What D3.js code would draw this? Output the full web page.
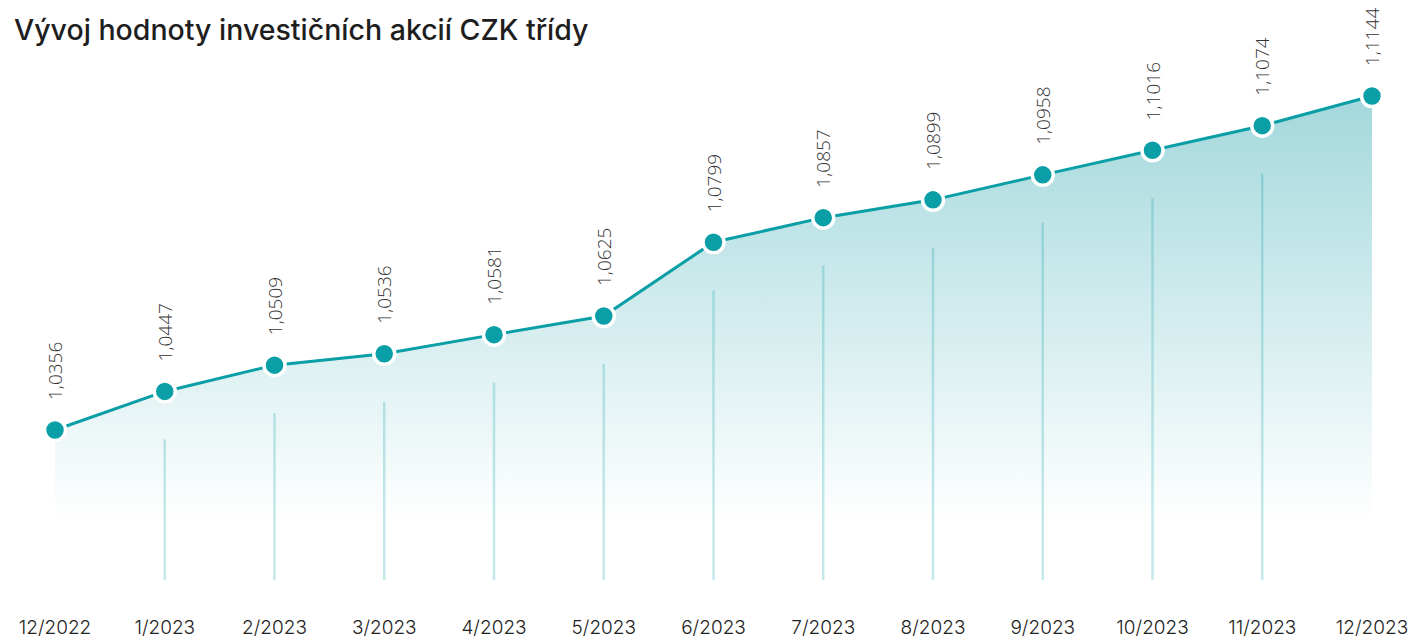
<!DOCTYPE html>
<html>
  <head>
    <script src="https://d3js.org/d3.v7.min.js"></script>
    <style>
      body { margin: 0; background: #fff; }
      .title { font-family: Inter, sans-serif; font-size: 28.5px; font-weight: 500; fill: #1e1e1e; }
      .xlab { font-family: Inter, sans-serif; font-size: 19px; font-weight: 300; fill: #222; }
      .vlab { font-family: "Open Sans", sans-serif; font-size: 19px; font-weight: 300; fill: #333; }
    </style>
  </head>
  <body>
    <svg width="1413" height="638"></svg>
    <script>
      // data
      var months = ["12/2022", "1/2023", "2/2023", "3/2023", "4/2023", "5/2023", "6/2023",
                    "7/2023", "8/2023", "9/2023", "10/2023", "11/2023", "12/2023"];
      var values = [1.0356, 1.0447, 1.0509, 1.0536, 1.0581, 1.0625, 1.0799,
                    1.0857, 1.0899, 1.0958, 1.1016, 1.1074, 1.1144];

      var svg = d3.select("svg");

      var x = d3.scalePoint().domain(months).range([55, 1372]);
      var y = d3.scaleLinear().domain([1.0356, 1.1144]).range([430, 96]);
      var areaBottom = 520, stemBottom = 580, stemGap = 48;

      svg.append("text").attr("class", "title").attr("x", 14).attr("y", 40)
        .text("Vývoj hodnoty investičních akcií CZK třídy");

      // gradient
      var grad = svg.append("defs").append("linearGradient")
        .attr("id", "fade").attr("gradientUnits", "userSpaceOnUse")
        .attr("x1", 0).attr("x2", 0).attr("y1", y(d3.max(values))).attr("y2", areaBottom);
      grad.append("stop").attr("offset", 0).attr("stop-color", "#a3d8dc");
      grad.append("stop").attr("offset", 1).attr("stop-color", "#ffffff");

      var pts = months.map(function(m, i) { return { m: m, v: values[i] }; });

      svg.append("path").datum(pts)
        .attr("fill", "url(#fade)")
        .attr("d", d3.area().x(function(d) { return x(d.m); })
          .y0(areaBottom).y1(function(d) { return y(d.v); }));

      // vertical stems
      svg.selectAll(".stem").data(pts.slice(1, -1)).enter().append("line")
        .attr("class", "stem")
        .attr("x1", function(d) { return x(d.m); })
        .attr("x2", function(d) { return x(d.m); })
        .attr("y1", function(d) { return y(d.v) + stemGap; })
        .attr("y2", stemBottom)
        .attr("stroke", "#0a9ea6").attr("stroke-opacity", 0.24).attr("stroke-width", 2.5);

      svg.append("path").datum(pts)
        .attr("fill", "none").attr("stroke", "#0a9ea6").attr("stroke-width", 3)
        .attr("d", d3.line().x(function(d) { return x(d.m); }).y(function(d) { return y(d.v); }));

      svg.selectAll(".dot").data(pts).enter().append("circle")
        .attr("cx", function(d) { return x(d.m); })
        .attr("cy", function(d) { return y(d.v); })
        .attr("r", 10.5)
        .attr("fill", "#0a9ea6").attr("stroke", "#fff").attr("stroke-width", 3.5);

      // value labels, rotated
      svg.selectAll(".vlab").data(pts).enter().append("text")
        .attr("class", "vlab")
        .attr("transform", function(d) {
          return "translate(" + (x(d.m) + 7) + "," + (y(d.v) - 30) + ") rotate(-90)";
        })
        .text(function(d) { return d.v.toFixed(4).replace(".", ","); });

      // x labels
      svg.selectAll(".xlab").data(months).enter().append("text")
        .attr("class", "xlab")
        .attr("x", function(d) { return x(d); })
        .attr("y", 634)
        .attr("text-anchor", "middle")
        .text(function(d) { return d; });
    </script>
  </body>
</html>
